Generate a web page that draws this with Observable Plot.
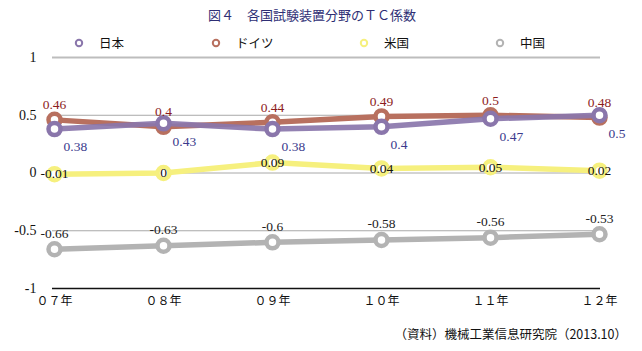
<!DOCTYPE html>
<html>
<head>
<meta charset="utf-8">
<script src="https://cdn.jsdelivr.net/npm/d3@7"></script>
<script src="https://cdn.jsdelivr.net/npm/@observablehq/plot@0.6"></script>
<style>
  html, body { margin: 0; padding: 0; background: #fff; }
  #wrap { position: relative; width: 642px; height: 351px; overflow: hidden; font-family: "Noto Sans CJK JP", sans-serif; }
  #title { position: absolute; top: 6px; left: 0; width: 624px; text-align: center; font-size: 13px; line-height: 18px; color: #2e2e74; }
  #legend { position: absolute; top: 34px; left: 0; width: 642px; height: 18px; }
  .item { position: absolute; top: 0; height: 18px; line-height: 18px; font-size: 12.5px; color: #111; }
  .item svg { position: absolute; left: 0; top: 3px; }
  .item span { position: absolute; left: 30px; top: 0; white-space: nowrap; }
  #chart { position: absolute; top: 50px; left: 0; }
  #chart text.num { font-family: "Liberation Serif", "Noto Sans CJK JP", serif; }
  #chart g[aria-label="y-axis tick label"] text { font-family: "Liberation Serif", serif; }
  #caption { position: absolute; top: 325px; right: 15px; font-size: 12.5px; line-height: 18px; color: #111; white-space: nowrap; }
</style>
</head>
<body>
<div id="wrap">
  <div id="title"></div>
  <div id="legend"></div>
  <div id="chart"></div>
  <div id="caption"></div>
</div>
<script>
const titleText = "図４　各国試験装置分野のＴＣ係数";
const captionText = "（資料）機械工業信息研究院（2013.10）";
const years = ["０７年", "０８年", "０９年", "１０年", "１１年", "１２年"];
const seriesNames = ["日本", "ドイツ", "米国", "中国"];
const japan = [0.38, 0.43, 0.38, 0.4, 0.47, 0.5];
const germany = [0.46, 0.4, 0.44, 0.49, 0.5, 0.48];
const usa = [-0.01, 0, 0.09, 0.04, 0.05, 0.02];
const china = [-0.66, -0.63, -0.6, -0.58, -0.56, -0.53];
const yTicks = [-1, -0.5, 0, 0.5, 1];
const gridValues = [1, 0.5, 0, -0.5];

const colors = {"日本": "#8a76ab", "ドイツ": "#b8705f", "米国": "#f6f07e", "中国": "#b3b3b3"};
const labelColors = {"日本": "#3a3a8c", "ドイツ": "#8c1c1c", "米国": "#111", "中国": "#222"};

document.getElementById("title").textContent = titleText;
document.getElementById("caption").textContent = captionText;

// legend
const legendX = [69, 206, 354, 490];
const legend = document.getElementById("legend");
seriesNames.forEach((name, i) => {
  const d = document.createElement("div");
  d.className = "item";
  d.style.left = legendX[i] + "px";
  d.innerHTML = `<svg width="20" height="12"><circle cx="10" cy="6" r="3.2" fill="#fff" stroke="${colors[name]}" stroke-width="2"/></svg><span>${name}</span>`;
  legend.appendChild(d);
});

const seriesValues = {"日本": japan, "ドイツ": germany, "米国": usa, "中国": china};
const rows = [];
for (const name of seriesNames) {
  seriesValues[name].forEach((v, i) => rows.push({series: name, year: years[i], value: v}));
}
const drawOrder = ["中国", "米国", "ドイツ", "日本"];
const serif = "Liberation Serif";

const marks = [];
marks.push(Plot.ruleY(gridValues, {y: d => d, stroke: d => d === 1 ? "#bdbdbd" : "#a8a8a8", strokeWidth: d => d === 1 ? 2 : 1}));
marks.push(Plot.ruleY([-1], {y: d => d, stroke: "#111", strokeWidth: 1.5}));
for (const name of drawOrder) {
  const data = rows.filter(r => r.series === name);
  marks.push(Plot.line(data, {x: "year", y: "value", stroke: colors[name], strokeWidth: 5.5, strokeOpacity: name === "日本" ? 0.92 : 1}));
  marks.push(Plot.dot(data, {x: "year", y: "value", r: 6, fill: "#fff", stroke: colors[name], strokeWidth: 4.5}));
}
// labels
const lab = (name, opts) => Plot.text(rows.filter(r => r.series === name), {
  x: "year", y: "value", text: d => String(d.value), fill: labelColors[name],
  fontSize: 13.5, fontFamily: serif, className: "num", ...opts
});
marks.push(lab("中国", {dy: -16}));
marks.push(lab("米国", {dy: 0}));
marks.push(lab("ドイツ", {dy: -15}));
marks.push(lab("日本", {dx: 9, dy: 18, textAnchor: "start"}));

marks.push(Plot.axisY({ticks: yTicks, tickSize: 0, tickPadding: 16, tickFormat: d => String(d), fontSize: 14, fontFamily: serif, color: "#111"}));
marks.push(Plot.axisX({tickSize: 0, tickPadding: 8, fontSize: 12, fontFamily: "Noto Sans CJK JP", color: "#111"}));

const chart = Plot.plot({
  width: 642,
  height: 270,
  marginTop: 7,
  marginBottom: 32,
  marginLeft: 52,
  marginRight: 42,
  x: {type: "point", domain: years, padding: 0, label: null},
  y: {domain: [-1, 1], label: null},
  style: {background: "transparent", color: "#111", overflow: "visible"},
  marks
});
chart.querySelectorAll("g[aria-label='text'] text").forEach(t => t.classList.add("num"));
chart.querySelectorAll("g[aria-label='text']").forEach(g => g.setAttribute("font-family", "Liberation Serif"));
document.getElementById("chart").appendChild(chart);
</script>
</body>
</html>
